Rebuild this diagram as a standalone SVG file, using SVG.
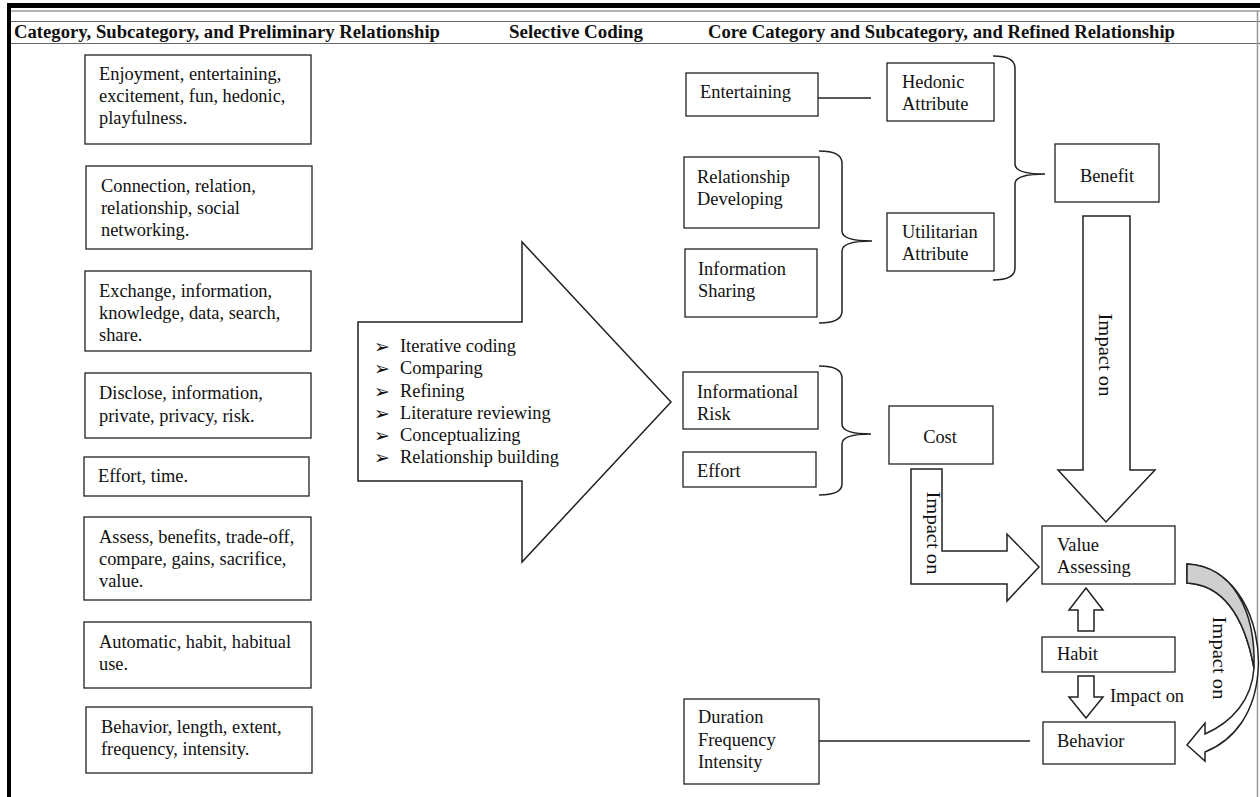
<svg xmlns="http://www.w3.org/2000/svg" width="1260" height="797" viewBox="0 0 1260 797">
<style>
.t{font-family:"Liberation Serif","Times New Roman",serif;font-size:18.4px;fill:#111}
.h{font-family:"Liberation Serif","Times New Roman",serif;font-size:18px;font-weight:bold;fill:#111}
.b{fill:#fff;stroke:#222;stroke-width:1.3}
.ln{fill:none;stroke:#222;stroke-width:1.5}
.ar{fill:#fff;stroke:#222;stroke-width:1.5;stroke-linejoin:miter}
.bul{font-family:"DejaVu Sans",sans-serif;font-size:19px;fill:#111}
</style>
<rect width="1260" height="797" fill="#fff"/>
<g id="frame">
<rect x="7" y="3" width="1253" height="5" fill="#000"/>
<rect x="7" y="8" width="4" height="789" fill="#000"/>
<line x1="11" y1="11" x2="1260" y2="11" stroke="#666" stroke-width="1"/>
<line x1="11" y1="21.5" x2="1260" y2="21.5" stroke="#666" stroke-width="1"/>
<line x1="11" y1="43.5" x2="1260" y2="43.5" stroke="#666" stroke-width="1"/>
<line x1="1257.5" y1="11" x2="1257.5" y2="797" stroke="#999" stroke-width="1.5"/>
<text class="h" x="14" y="38" textLength="426" lengthAdjust="spacingAndGlyphs">Category, Subcategory, and Preliminary Relationship</text>
<text class="h" x="509" y="38" textLength="134" lengthAdjust="spacingAndGlyphs">Selective Coding</text>
<text class="h" x="708" y="38" textLength="467" lengthAdjust="spacingAndGlyphs">Core Category and Subcategory, and Refined Relationship</text>
</g>
<g id="left-1"><rect class="b" x="85" y="55" width="226" height="89"/><text class="t" x="99" y="80">Enjoyment, entertaining,</text><text class="t" x="99" y="102">excitement, fun, hedonic,</text><text class="t" x="99" y="124">playfulness.</text></g>
<g id="left-2"><rect class="b" x="86" y="166" width="226" height="83"/><text class="t" x="101" y="192">Connection, relation,</text><text class="t" x="101" y="214">relationship, social</text><text class="t" x="101" y="236">networking.</text></g>
<g id="left-3"><rect class="b" x="85" y="271" width="226" height="80"/><text class="t" x="99" y="297">Exchange, information,</text><text class="t" x="99" y="319">knowledge, data, search,</text><text class="t" x="99" y="341">share.</text></g>
<g id="left-4"><rect class="b" x="85" y="373" width="226" height="65"/><text class="t" x="99" y="399">Disclose, information,</text><text class="t" x="99" y="422">private, privacy, risk.</text></g>
<g id="left-5"><rect class="b" x="84" y="457" width="225" height="39"/><text class="t" x="98" y="482">Effort, time.</text></g>
<g id="left-6"><rect class="b" x="84" y="517" width="227" height="83"/><text class="t" x="99" y="543">Assess, benefits, trade-off,</text><text class="t" x="99" y="565">compare, gains, sacrifice,</text><text class="t" x="99" y="587">value.</text></g>
<g id="left-7"><rect class="b" x="84" y="622" width="227" height="66"/><text class="t" x="99" y="648">Automatic, habit, habitual</text><text class="t" x="99" y="670">use.</text></g>
<g id="left-8"><rect class="b" x="86" y="707" width="226" height="66"/><text class="t" x="101" y="733">Behavior, length, extent,</text><text class="t" x="101" y="755">frequency, intensity.</text></g>
<g id="selective-coding">
<polygon class="ar" points="358,322 522,322 522,242 671,402 522,562 522,481 358,481"/>
<text class="bul" x="374" y="353">➢</text><text class="t" x="400" y="352">Iterative coding</text>
<text class="bul" x="374" y="375">➢</text><text class="t" x="400" y="374">Comparing</text>
<text class="bul" x="374" y="398">➢</text><text class="t" x="400" y="397">Refining</text>
<text class="bul" x="374" y="420">➢</text><text class="t" x="400" y="419">Literature reviewing</text>
<text class="bul" x="374" y="442">➢</text><text class="t" x="400" y="441">Conceptualizing</text>
<text class="bul" x="374" y="464">➢</text><text class="t" x="400" y="463">Relationship building</text>
</g>
<g id="entertaining"><rect class="b" x="686" y="73" width="132" height="43"/><text class="t" x="700" y="98">Entertaining</text></g>
<g id="hedonic"><rect class="b" x="887" y="63" width="107" height="58"/><text class="t" x="902" y="88">Hedonic</text><text class="t" x="902" y="110">Attribute</text></g>
<g id="relationship-developing"><rect class="b" x="684" y="157" width="135" height="71"/><text class="t" x="697" y="183">Relationship</text><text class="t" x="697" y="205">Developing</text></g>
<g id="information-sharing"><rect class="b" x="685" y="249" width="132" height="68"/><text class="t" x="698" y="275">Information</text><text class="t" x="698" y="297">Sharing</text></g>
<g id="utilitarian"><rect class="b" x="887" y="213" width="107" height="58"/><text class="t" x="902" y="238">Utilitarian</text><text class="t" x="902" y="260">Attribute</text></g>
<g id="benefit"><rect class="b" x="1055" y="144" width="104" height="58"/><text class="t" x="1107" y="182" text-anchor="middle">Benefit</text></g>
<g id="informational-risk"><rect class="b" x="683" y="372" width="135" height="57"/><text class="t" x="697" y="398">Informational</text><text class="t" x="697" y="420">Risk</text></g>
<g id="effort"><rect class="b" x="683" y="452" width="133" height="35"/><text class="t" x="697" y="477">Effort</text></g>
<g id="cost"><rect class="b" x="889" y="406" width="104" height="58"/><text class="t" x="940" y="443" text-anchor="middle">Cost</text></g>
<g id="value-assessing"><rect class="b" x="1042" y="526" width="133" height="58"/><text class="t" x="1057" y="551">Value</text><text class="t" x="1057" y="573">Assessing</text></g>
<g id="habit"><rect class="b" x="1042" y="637" width="133" height="35"/><text class="t" x="1057" y="660">Habit</text></g>
<g id="behavior"><rect class="b" x="1043" y="722" width="132" height="42"/><text class="t" x="1057" y="747">Behavior</text></g>
<g id="duration"><rect class="b" x="684" y="699" width="135" height="85"/><text class="t" x="698" y="723">Duration</text><text class="t" x="698" y="746">Frequency</text><text class="t" x="698" y="768">Intensity</text></g>
<g id="connectors">
<line class="ln" x1="818" y1="98" x2="871" y2="98"/>
<path class="ln" d="M819,151 Q842,151 842,163 L842,231 Q842,241 872,241 Q842,241 842,251 L842,311 Q842,323 819,323"/>
<path class="ln" d="M993,56 Q1015,56 1015,68 L1015,164 Q1015,174 1045,174 Q1015,174 1015,184 L1015,268 Q1015,280 993,280"/>
<path class="ln" d="M819,366 Q842,366 842,378 L842,424 Q842,434 871,434 Q842,434 842,444 L842,484 Q842,495 819,495"/>
<line class="ln" x1="819" y1="741" x2="1030" y2="741"/>
<polygon class="ar" points="1083,216 1130,216 1130,470 1155,470 1106,522 1058,470 1083,470"/>
<text class="t" transform="translate(1099,355) rotate(90)" text-anchor="middle" textLength="83" lengthAdjust="spacingAndGlyphs">Impact on</text>
<polygon class="ar" points="911,469 942,469 942,551 1007,551 1007,534 1039,567 1007,601 1007,584 911,584"/>
<text class="t" transform="translate(927,533) rotate(90)" text-anchor="middle" textLength="83" lengthAdjust="spacingAndGlyphs">Impact on</text>
<polygon class="ar" points="1086,588 1103,610 1094,610 1094,631 1078,631 1078,610 1069,610"/>
<polygon class="ar" points="1078,676 1094,676 1094,697 1103,697 1086,718 1069,697 1078,697"/>
<text class="t" x="1110" y="702">Impact on</text>
<path class="ar" d="M1187,564 C1235,566 1262,620 1258,672 C1255,712 1235,740 1205,752 L1205,761 L1187,745 L1205,723 L1205,734 C1232,722 1252,700 1254,668 C1245,620 1225,585 1187,583 Z"/>
<path d="M1187,564 C1232,566 1256,610 1254,668 C1245,620 1225,585 1187,583 Z" fill="#cfcfcf" stroke="#222" stroke-width="1.5"/>
<text class="t" transform="translate(1213,658) rotate(90)" text-anchor="middle" textLength="83" lengthAdjust="spacingAndGlyphs">Impact on</text>
</g>
</svg>
